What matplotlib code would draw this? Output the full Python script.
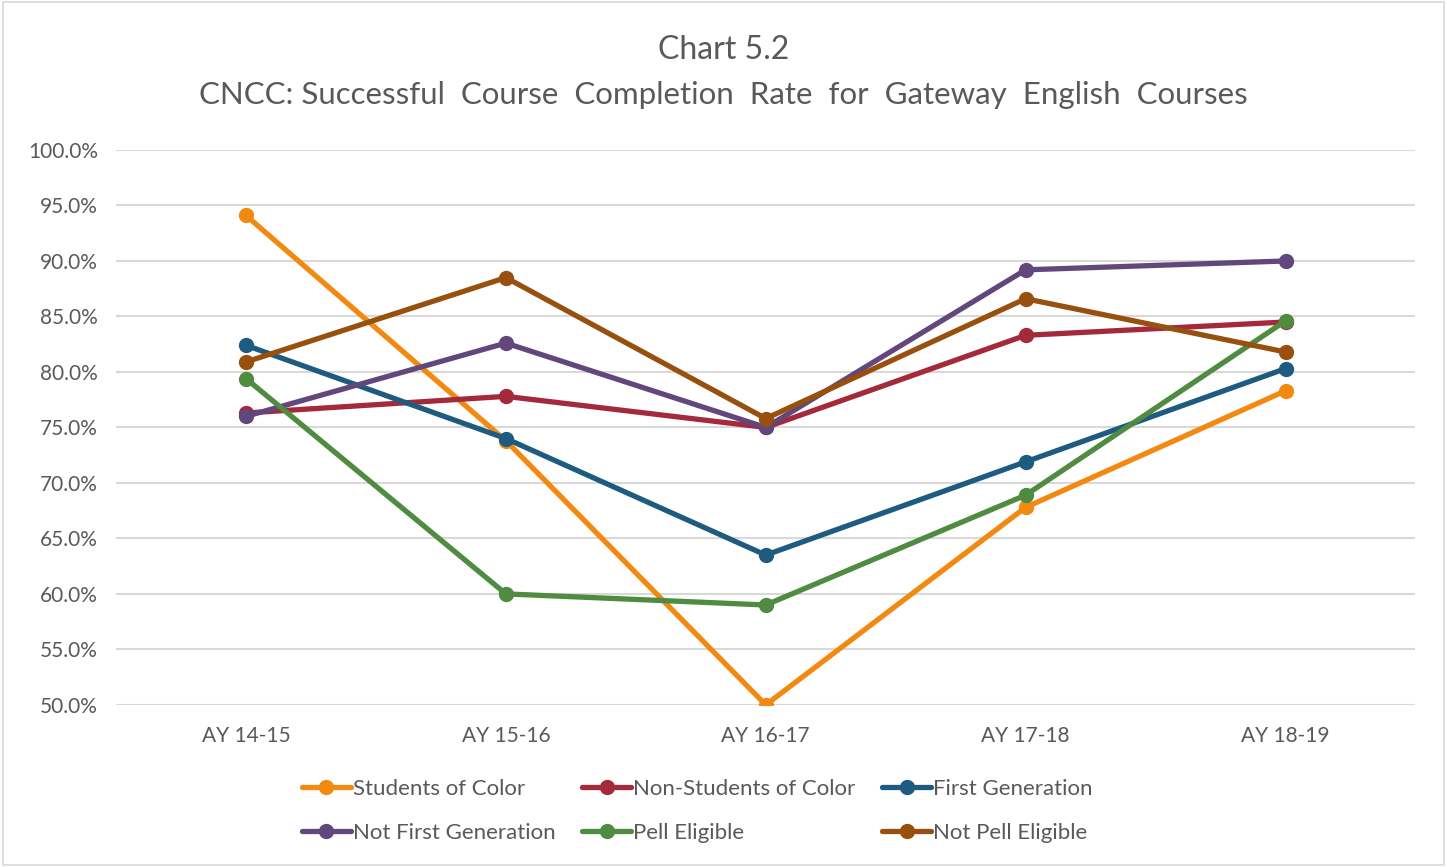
import numpy as np
import matplotlib.pyplot as plt
from matplotlib.patches import Rectangle

years = ['AY 14-15', 'AY 15-16', 'AY 16-17', 'AY 17-18', 'AY 18-19']
students_of_color = [94.1, 73.8, 50.0, 67.8, 78.3]
non_students_of_color = [76.3, 77.8, 75.0, 83.3, 84.5]
first_gen = [82.4, 74.0, 63.5, 71.9, 80.3]
not_first_gen = [76.0, 82.6, 75.0, 89.2, 90.0]
pell = [79.4, 60.0, 59.0, 68.9, 84.6]
not_pell = [80.9, 88.5, 75.8, 86.6, 81.8]

series = [
    ('Students of Color', students_of_color, '#F28A12'),
    ('Non-Students of Color', non_students_of_color, '#A3293B'),
    ('First Generation', first_gen, '#1E5B80'),
    ('Not First Generation', not_first_gen, '#62477C'),
    ('Pell Eligible', pell, '#4F8B40'),
    ('Not Pell Eligible', not_pell, '#97500D'),
]

plt.rcParams['font.family'] = ['Lato', 'DejaVu Sans']
txt = '#595959'

fig = plt.figure(figsize=(14.47, 8.67), dpi=100)
ax = fig.add_axes([0.0802, 0.187, 0.898, 0.640])

x = np.arange(len(years))
lines = []
for name, vals, col in series:
    l, = ax.plot(x, vals, color=col, lw=3.8, marker='o', ms=10, label=name,
                 solid_capstyle='round')
    lines.append(l)

ax.set_xlim(-0.5, len(years) - 0.5)
ax.set_ylim(50, 100)
ax.set_yticks(np.arange(50, 100.1, 5))
ax.set_yticklabels(['%.1f%%' % v for v in np.arange(50, 100.1, 5)])
ax.set_xticks(x)
ax.set_xticklabels(years)
ax.tick_params(length=0, labelsize=15, colors=txt)
ax.tick_params(axis='y', pad=13)
ax.tick_params(axis='x', pad=15)
ax.grid(axis='y', color='#D9D9D9', lw=1.5)
ax.set_axisbelow(True)
for s in ax.spines.values():
    s.set_visible(False)

fig.text(0.5, 1 - 50 / 867, 'Chart 5.2', ha='center', va='center', fontsize=23, color=txt)
fig.text(0.5, 1 - 95 / 867, 'CNCC: Successful  Course  Completion  Rate  for  Gateway  English  Courses',
         ha='center', va='center', fontsize=22.5, color=txt)

order = [0, 3, 1, 4, 2, 5]
leg = fig.legend([lines[i] for i in order], [series[i][0] for i in order],
                 ncol=3, loc='center', bbox_to_anchor=(0.482, 1 - 811 / 867),
                 frameon=False, fontsize=16, labelcolor=txt, handlelength=2.2,
                 handletextpad=0.1, columnspacing=1.2, labelspacing=1.1)

fig.patches.append(Rectangle((0.002, 0.002), 0.996, 0.996, transform=fig.transFigure,
                             fill=False, edgecolor='#D9D9D9', lw=1.2))

fig.savefig('out.png', dpi=100)
